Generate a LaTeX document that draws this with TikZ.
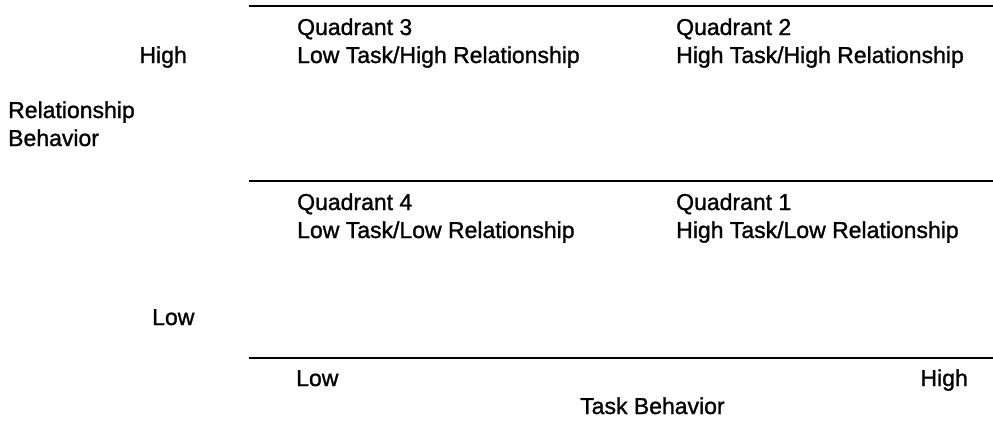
\documentclass[tikz,border=0pt]{standalone}
\usepackage{fontspec}
\setmainfont{Liberation Sans}[BoldFont=Liberation Sans, BoldFeatures={FakeBold=1.2}]
\begin{document}
\begin{tikzpicture}[x=1pt, y=-1pt,
  lbl/.style={anchor=base west, inner sep=0pt, font=\fontsize{23}{28}\selectfont\bfseries},
  lblr/.style={anchor=base east, inner sep=0pt, font=\fontsize{23}{28}\selectfont\bfseries},
  rule/.style={line width=2pt, black}]
  \useasboundingbox (0,0) rectangle (993,421);

  % horizontal rules of the grid
  \coordinate (topL) at (249,6);   \coordinate (topR) at (993,6);
  \coordinate (midL) at (249,181); \coordinate (midR) at (993,181);
  \coordinate (botL) at (249,358); \coordinate (botR) at (993,358);
  \draw[rule] (topL) -- (topR);
  \draw[rule] (midL) -- (midR);
  \draw[rule] (botL) -- (botR);

  % upper quadrants
  \node[lbl] (q3)  at (297,35) {Quadrant 3};
  \node[lbl] (q3t) at (297,63) {Low Task/High Relationship};
  \node[lbl] (q2)  at (676,35) {Quadrant 2};
  \node[lbl] (q2t) at (676,63) {High Task/High Relationship};

  % lower quadrants
  \node[lbl] (q4)  at (297,210) {Quadrant 4};
  \node[lbl] (q4t) at (297,238) {Low Task/Low Relationship};
  \node[lbl] (q1)  at (676,210) {Quadrant 1};
  \node[lbl] (q1t) at (676,238) {High Task/Low Relationship};

  % vertical axis
  \node[lblr] (yhigh) at (187,63) {High};
  \node[lbl] (yname1) at (8,118) {Relationship};
  \node[lbl] (yname2) at (8,146) {Behavior};
  \node[lbl] (ylow) at (152,325) {Low};

  % horizontal axis
  \node[lbl] (xlow) at (296,386) {Low};
  \node[lblr] (xhigh) at (968,386) {High};
  \node[lbl] (xname) at (580,414) {Task Behavior};
\end{tikzpicture}
\end{document}
